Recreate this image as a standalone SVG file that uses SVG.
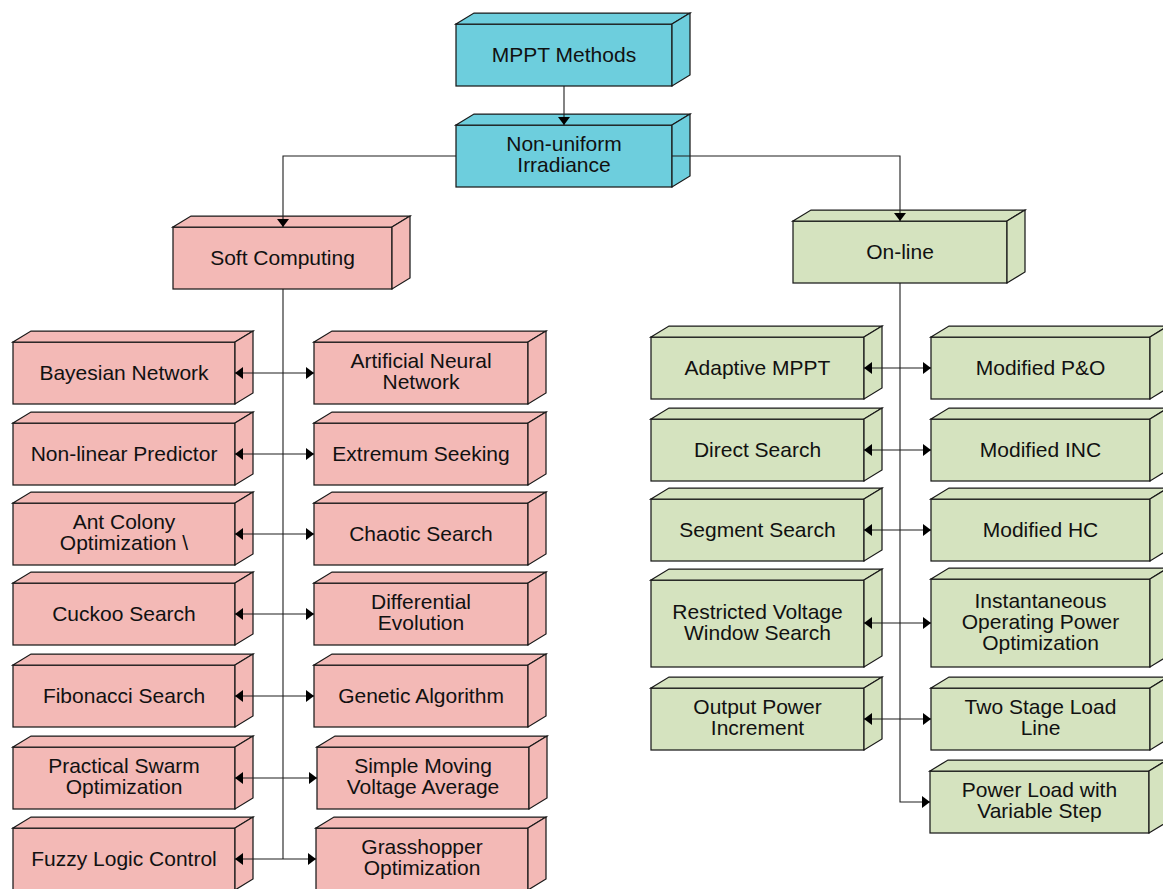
<svg xmlns="http://www.w3.org/2000/svg" width="1163" height="889" viewBox="0 0 1163 889">
<style>
.b rect,.b polygon{stroke:#1a1a1a;stroke-width:1.25;stroke-linejoin:miter}
.cy rect,.cy polygon{fill:#6dcedd}
.pk rect,.pk polygon{fill:#f3b9b6}
.gr rect,.gr polygon{fill:#d5e3bf}
text{font-family:"Liberation Sans",Arial,sans-serif;font-size:21px;fill:#111;text-anchor:middle}
.c line,.c polyline{stroke:#1e1e1e;stroke-width:1.1;fill:none}
</style>
<defs>
<marker id="ah" viewBox="0 0 8 12" refX="8" refY="6" markerWidth="8" markerHeight="12" markerUnits="userSpaceOnUse" orient="auto-start-reverse"><path d="M0,0 L8,6 L0,12 z" fill="#000"/></marker>
</defs>
<rect width="1163" height="889" fill="#fff"/>

<g id="mppt" class="b cy"><rect x="456" y="24" width="216" height="62"/><polygon points="456,24 474,13 690,13 672,24"/><polygon points="672,24 690,13 690,75 672,86"/><text x="564" y="62">MPPT Methods</text></g>
<g id="nonuniform" class="b cy"><rect x="456" y="125" width="216" height="62"/><polygon points="456,125 474,114 690,114 672,125"/><polygon points="672,125 690,114 690,176 672,187"/><text x="564" y="151">Non-uniform</text><text x="564" y="172">Irradiance</text></g>
<g id="soft" class="b pk"><rect x="173" y="227" width="219" height="62"/><polygon points="173,227 191,216 410,216 392,227"/><polygon points="392,227 410,216 410,278 392,289"/><text x="282.5" y="265">Soft Computing</text></g>
<g id="online" class="b gr"><rect x="793" y="221" width="214" height="62"/><polygon points="793,221 811,210 1025,210 1007,221"/><polygon points="1007,221 1025,210 1025,272 1007,283"/><text x="900" y="259">On-line</text></g>

<g id="bayesian" class="b pk"><rect x="13" y="342" width="222" height="62"/><polygon points="13,342 31,331 253,331 235,342"/><polygon points="235,342 253,331 253,393 235,404"/><text x="124" y="380">Bayesian Network</text></g>
<g id="nonlinear" class="b pk"><rect x="13" y="423" width="222" height="62"/><polygon points="13,423 31,412 253,412 235,423"/><polygon points="235,423 253,412 253,474 235,485"/><text x="124" y="461">Non-linear Predictor</text></g>
<g id="antcolony" class="b pk"><rect x="13" y="503" width="222" height="62"/><polygon points="13,503 31,492 253,492 235,503"/><polygon points="235,503 253,492 253,554 235,565"/><text x="124" y="529">Ant Colony</text><text x="124" y="550">Optimization \</text></g>
<g id="cuckoo" class="b pk"><rect x="13" y="583" width="222" height="62"/><polygon points="13,583 31,572 253,572 235,583"/><polygon points="235,583 253,572 253,634 235,645"/><text x="124" y="621">Cuckoo Search</text></g>
<g id="fibonacci" class="b pk"><rect x="13" y="665" width="222" height="62"/><polygon points="13,665 31,654 253,654 235,665"/><polygon points="235,665 253,654 253,716 235,727"/><text x="124" y="703">Fibonacci Search</text></g>
<g id="pso" class="b pk"><rect x="13" y="747" width="222" height="62"/><polygon points="13,747 31,736 253,736 235,747"/><polygon points="235,747 253,736 253,798 235,809"/><text x="124" y="773">Practical Swarm</text><text x="124" y="794">Optimization</text></g>
<g id="fuzzy" class="b pk"><rect x="13" y="828" width="222" height="62"/><polygon points="13,828 31,817 253,817 235,828"/><polygon points="235,828 253,817 253,879 235,890"/><text x="124" y="866">Fuzzy Logic Control</text></g>

<g id="ann" class="b pk"><rect x="314" y="342" width="214" height="62"/><polygon points="314,342 332,331 546,331 528,342"/><polygon points="528,342 546,331 546,393 528,404"/><text x="421" y="368">Artificial Neural</text><text x="421" y="389">Network</text></g>
<g id="extremum" class="b pk"><rect x="314" y="423" width="214" height="62"/><polygon points="314,423 332,412 546,412 528,423"/><polygon points="528,423 546,412 546,474 528,485"/><text x="421" y="461">Extremum Seeking</text></g>
<g id="chaotic" class="b pk"><rect x="314" y="503" width="214" height="62"/><polygon points="314,503 332,492 546,492 528,503"/><polygon points="528,503 546,492 546,554 528,565"/><text x="421" y="541">Chaotic Search</text></g>
<g id="differential" class="b pk"><rect x="314" y="583" width="214" height="62"/><polygon points="314,583 332,572 546,572 528,583"/><polygon points="528,583 546,572 546,634 528,645"/><text x="421" y="609">Differential</text><text x="421" y="630">Evolution</text></g>
<g id="genetic" class="b pk"><rect x="314" y="665" width="214" height="62"/><polygon points="314,665 332,654 546,654 528,665"/><polygon points="528,665 546,654 546,716 528,727"/><text x="421" y="703">Genetic Algorithm</text></g>
<g id="smva" class="b pk"><rect x="317" y="747" width="212" height="62"/><polygon points="317,747 335,736 547,736 529,747"/><polygon points="529,747 547,736 547,798 529,809"/><text x="423" y="773">Simple Moving</text><text x="423" y="794">Voltage Average</text></g>
<g id="grasshopper" class="b pk"><rect x="316" y="828" width="212" height="62"/><polygon points="316,828 334,817 546,817 528,828"/><polygon points="528,828 546,817 546,879 528,890"/><text x="422" y="854">Grasshopper</text><text x="422" y="875">Optimization</text></g>

<g id="adaptive" class="b gr"><rect x="651" y="337" width="213" height="62"/><polygon points="651,337 669,326 882,326 864,337"/><polygon points="864,337 882,326 882,388 864,399"/><text x="757.5" y="375">Adaptive MPPT</text></g>
<g id="direct" class="b gr"><rect x="651" y="419" width="213" height="62"/><polygon points="651,419 669,408 882,408 864,419"/><polygon points="864,419 882,408 882,470 864,481"/><text x="757.5" y="457">Direct Search</text></g>
<g id="segment" class="b gr"><rect x="651" y="499" width="213" height="62"/><polygon points="651,499 669,488 882,488 864,499"/><polygon points="864,499 882,488 882,550 864,561"/><text x="757.5" y="537">Segment Search</text></g>
<g id="restricted" class="b gr"><rect x="651" y="580" width="213" height="87"/><polygon points="651,580 669,569 882,569 864,580"/><polygon points="864,580 882,569 882,656 864,667"/><text x="757.5" y="618.5">Restricted Voltage</text><text x="757.5" y="639.5">Window Search</text></g>
<g id="output" class="b gr"><rect x="651" y="688" width="213" height="62"/><polygon points="651,688 669,677 882,677 864,688"/><polygon points="864,688 882,677 882,739 864,750"/><text x="757.5" y="714">Output Power</text><text x="757.5" y="735">Increment</text></g>

<g id="mpo" class="b gr"><rect x="931" y="337" width="219" height="62"/><polygon points="931,337 949,326 1168,326 1150,337"/><polygon points="1150,337 1168,326 1168,388 1150,399"/><text x="1040.5" y="375">Modified P&amp;O</text></g>
<g id="minc" class="b gr"><rect x="931" y="419" width="219" height="62"/><polygon points="931,419 949,408 1168,408 1150,419"/><polygon points="1150,419 1168,408 1168,470 1150,481"/><text x="1040.5" y="457">Modified INC</text></g>
<g id="mhc" class="b gr"><rect x="931" y="499" width="219" height="62"/><polygon points="931,499 949,488 1168,488 1150,499"/><polygon points="1150,499 1168,488 1168,550 1150,561"/><text x="1040.5" y="537">Modified HC</text></g>
<g id="instant" class="b gr"><rect x="931" y="579" width="219" height="88"/><polygon points="931,579 949,568 1168,568 1150,579"/><polygon points="1150,579 1168,568 1168,656 1150,667"/><text x="1040.5" y="608">Instantaneous</text><text x="1040.5" y="629">Operating Power</text><text x="1040.5" y="650">Optimization</text></g>
<g id="twostage" class="b gr"><rect x="931" y="688" width="219" height="62"/><polygon points="931,688 949,677 1168,677 1150,688"/><polygon points="1150,688 1168,677 1168,739 1150,750"/><text x="1040.5" y="714">Two Stage Load</text><text x="1040.5" y="735">Line</text></g>
<g id="powerload" class="b gr"><rect x="930" y="771" width="219" height="62"/><polygon points="930,771 948,760 1167,760 1149,771"/><polygon points="1149,771 1167,760 1167,822 1149,833"/><text x="1039.5" y="797">Power Load with</text><text x="1039.5" y="818">Variable Step</text></g>

<g id="connectors" class="c">
<line x1="564" y1="86" x2="564" y2="125" marker-end="url(#ah)"/>
<polyline points="456,156 283,156 283,227" marker-end="url(#ah)"/>
<polyline points="672,156 900,156 900,221" marker-end="url(#ah)"/>
<line x1="283" y1="289" x2="283" y2="859"/>
<line x1="235" y1="373" x2="314" y2="373" marker-start="url(#ah)" marker-end="url(#ah)"/>
<line x1="235" y1="454" x2="314" y2="454" marker-start="url(#ah)" marker-end="url(#ah)"/>
<line x1="235" y1="534" x2="314" y2="534" marker-start="url(#ah)" marker-end="url(#ah)"/>
<line x1="235" y1="614" x2="314" y2="614" marker-start="url(#ah)" marker-end="url(#ah)"/>
<line x1="235" y1="696" x2="314" y2="696" marker-start="url(#ah)" marker-end="url(#ah)"/>
<line x1="235" y1="778" x2="317" y2="778" marker-start="url(#ah)" marker-end="url(#ah)"/>
<line x1="235" y1="859" x2="316" y2="859" marker-start="url(#ah)" marker-end="url(#ah)"/>
<polyline points="900,283 900,802 930,802" marker-end="url(#ah)"/>
<line x1="864" y1="368" x2="931" y2="368" marker-start="url(#ah)" marker-end="url(#ah)"/>
<line x1="864" y1="450" x2="931" y2="450" marker-start="url(#ah)" marker-end="url(#ah)"/>
<line x1="864" y1="530" x2="931" y2="530" marker-start="url(#ah)" marker-end="url(#ah)"/>
<line x1="864" y1="623" x2="931" y2="623" marker-start="url(#ah)" marker-end="url(#ah)"/>
<line x1="864" y1="719" x2="931" y2="719" marker-start="url(#ah)" marker-end="url(#ah)"/>
</g>
</svg>
